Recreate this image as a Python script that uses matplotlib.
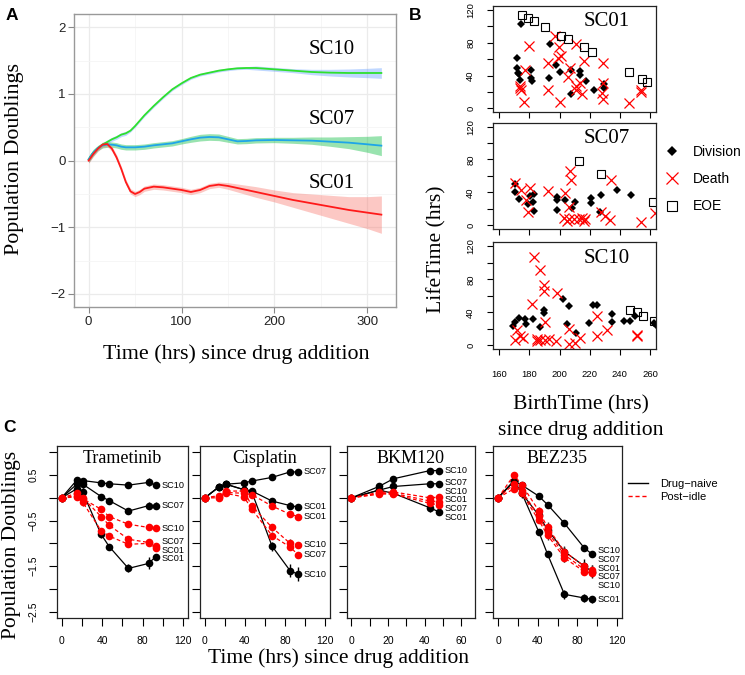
import numpy as np
import matplotlib.pyplot as plt
from matplotlib.lines import Line2D

SERIF = 'Liberation Serif'
SANS = 'Liberation Sans'
plt.rcParams['font.family'] = SANS
W, H = 745, 675

# ---------------- Panel A: smoothed population doublings ----------------
a_time = [0, 5, 10, 15, 20, 25, 30, 35, 40, 45, 50, 55, 60, 70, 80, 90, 100, 110,
          120, 130, 140, 150, 160, 170, 180, 200, 220, 240, 260, 280, 300, 315]
a_sc10 = [0.02, 0.12, 0.19, 0.24, 0.28, 0.32, 0.35, 0.39, 0.41, 0.45, 0.52, 0.60, 0.68,
          0.82, 0.95, 1.07, 1.16, 1.24, 1.29, 1.32, 1.35, 1.37, 1.385, 1.39, 1.39, 1.37,
          1.35, 1.33, 1.32, 1.315, 1.315, 1.315]
a_sc10_se = [0.05, 0.04, 0.03, 0.03, 0.03, 0.03, 0.03, 0.03, 0.03, 0.02, 0.02, 0.02, 0.02,
             0.02, 0.02, 0.02, 0.02, 0.02, 0.02, 0.02, 0.02, 0.02, 0.02, 0.02, 0.03, 0.03,
             0.03, 0.04, 0.05, 0.06, 0.07, 0.08]
a_sc07 = [0.02, 0.12, 0.19, 0.23, 0.24, 0.24, 0.23, 0.21, 0.20, 0.20, 0.20, 0.205, 0.21,
          0.23, 0.245, 0.26, 0.29, 0.32, 0.345, 0.355, 0.35, 0.32, 0.29, 0.295, 0.305, 0.31,
          0.305, 0.30, 0.285, 0.27, 0.245, 0.225]
a_sc07_se = [0.05, 0.05, 0.04, 0.04, 0.04, 0.04, 0.04, 0.04, 0.04, 0.04, 0.04, 0.04, 0.04,
             0.04, 0.04, 0.04, 0.04, 0.045, 0.05, 0.05, 0.05, 0.045, 0.04, 0.04, 0.04, 0.04,
             0.045, 0.055, 0.07, 0.09, 0.12, 0.15]
a_sc01 = [0.0, 0.10, 0.18, 0.24, 0.25, 0.18, 0.05, -0.12, -0.32, -0.46, -0.50, -0.47, -0.42,
          -0.39, -0.40, -0.42, -0.44, -0.47, -0.44, -0.38, -0.36, -0.38, -0.41, -0.44, -0.47,
          -0.53, -0.59, -0.64, -0.69, -0.74, -0.78, -0.81]
a_sc01_se = [0.04, 0.04, 0.04, 0.04, 0.04, 0.04, 0.04, 0.04, 0.04, 0.04, 0.04, 0.04, 0.04,
             0.04, 0.04, 0.04, 0.04, 0.04, 0.04, 0.04, 0.04, 0.05, 0.06, 0.07, 0.08, 0.09,
             0.11, 0.14, 0.17, 0.20, 0.24, 0.28]

# ---------------- Panel B: birth time vs lifetime ----------------
b_sc01_div_birth = [174.4, 172.0, 172.0, 172.2, 172.9, 173.8, 181.1, 181.1, 181.6, 193.8, 193.3,
                    197.6, 200.0, 207.6, 207.6, 213.3, 213.3, 217.6, 222.7, 229.3, 229.8]
b_sc01_div_life = [103.1, 61.8, 48.9, 42.9, 42.1, 34.1, 46.9, 36.9, 32.8, 78.2, 36.9,
                   52.9, 44.9, 46.9, 18.0, 45.7, 40.9, 32.8, 22.0, 29.6, 24.8]
b_sc01_death_birth = [180.0, 177.1, 173.8, 174.4, 173.8, 176.7, 192.0, 192.0, 197.1, 199.3,
                      200.9, 198.9, 200.0, 211.1, 216.0, 207.1, 205.3, 213.3, 211.1, 214.9,
                      211.1, 228.9, 228.9, 228.2, 228.9, 246.0, 253.8, 253.8]
b_sc01_death_life = [76.6, 46.9, 26.8, 22.0, 24.8, 8.0, 54.9, 22.0, 88.7, 75.0,
                     63.8, 60.9, 7.6, 78.2, 58.1, 48.9, 37.7, 30.8, 22.0, 18.0,
                     26.8, 54.9, 30.8, 18.8, 11.6, 6.0, 22.0, 19.6]
b_sc01_eoe_birth = [175.3, 179.3, 183.3, 190.4, 201.1, 205.3, 216.0, 221.6, 246.0, 254.9, 258.2]
b_sc01_eoe_life = [114.0, 110.5, 106.8, 99.1, 88.3, 84.6, 74.6, 68.2, 44.1, 35.3, 32.0]

b_sc07_div_birth = [170.4, 170.4, 173.3, 179.3, 180.4, 183.3, 182.2, 182.7, 198.2, 198.2,
                    198.2, 203.8, 208.2, 210.4, 220.9, 220.9, 227.8, 237.8, 247.6, 227.1]
b_sc07_div_life = [50.5, 40.4, 31.9, 25.1, 35.2, 38.4, 27.9, 17.0, 34.3, 30.3,
                   18.2, 30.3, 21.0, 28.7, 33.1, 27.1, 37.2, 43.2, 37.2, 15.8]
b_sc07_death_birth = [170.4, 174.2, 177.8, 180.4, 179.3, 192.0, 203.8, 206.7, 207.6, 206.2,
                      203.1, 206.0, 209.3, 214.9, 217.1, 204.9, 212.7, 216.0, 227.6, 230.4,
                      233.8, 233.3, 253.8, 263.3]
b_sc07_death_life = [51.3, 43.2, 31.1, 45.3, 15.8, 42.0, 39.2, 65.5, 55.4, 22.2,
                     8.9, 7.7, 6.9, 8.9, 6.9, 4.9, 6.9, 4.9, 15.8, 10.9,
                     54.6, 6.0, 3.6, 15.0]
b_sc07_eoe_birth = [212.7, 227.8, 261.8]
b_sc07_eoe_life = [77.6, 62.6, 28.7]

b_sc10_div_birth = [169.3, 170.4, 173.3, 177.1, 177.8, 182.2, 186.7, 189.8, 189.8, 202.2, 206.0,
                    204.7, 210.7, 219.3, 222.2, 224.9, 235.1, 235.1, 242.7, 246.7, 249.8,
                    262.7, 263.8]
b_sc10_div_life = [23.1, 27.9, 33.2, 32.0, 26.3, 32.0, 22.3, 43.2, 39.2, 56.2, 47.3,
                   26.3, 15.0, 27.1, 49.3, 49.3, 38.4, 27.9, 29.5, 29.5, 36.0,
                   27.1, 25.0]
b_sc10_death_birth = [183.1, 187.1, 189.8, 189.8, 198.2, 181.6, 190.4, 170.4, 173.8, 176.0,
                      171.6, 184.9, 186.7, 185.3, 190.0, 193.3, 197.3, 206.2, 206.2, 210.0,
                      213.6, 224.9, 224.9, 231.6, 251.1, 251.6]
b_sc10_death_life = [107.1, 90.9, 73.5, 65.5, 63.4, 50.5, 27.9, 6.9, 11.0, 9.0,
                     18.2, 7.7, 6.9, 4.8, 6.9, 7.7, 4.8, 19.8, 2.0, 2.8,
                     9.0, 36.0, 11.0, 18.2, 13.0, 11.0]
b_sc10_eoe_birth = [246.7, 251.6, 255.6, 262.7]
b_sc10_eoe_life = [43.2, 40.0, 35.2, 29.1]

# ---------------- Panel C: drug-naive vs post-idle ----------------
c_clones = ['SC10', 'SC07', 'SC01']

tram_time = [0, 15, 21, 39, 47, 66, 86, 93]
tram_naive = {'SC10': [0, 0.39, 0.38, 0.33, 0.31, 0.28, 0.34, 0.28],
              'SC07': [0, 0.30, 0.30, 0.03, -0.06, -0.29, -0.17, -0.17],
              'SC01': [0, 0.20, 0.12, -0.80, -1.07, -1.55, -1.44, -1.29]}
tram_naive_se = {'SC10': [0, .06, .05, .03, .03, .05, .09, .05],
                 'SC07': [0, .08, .08, .05, .04, .06, .08, .08],
                 'SC01': [0, .08, .10, .08, .04, .09, .13, .05]}
tram_idle = {'SC10': [0, 0.05, -0.02, -0.25, -0.41, -0.58, -0.65, -0.67],
             'SC07': [0, 0.10, 0.00, -0.41, -0.60, -0.91, -0.98, -1.05],
             'SC01': [0, 0.02, -0.10, -0.72, -0.84, -1.02, -1.00, -1.10]}
tram_idle_se = {'SC10': [0, .04, .04, .04, .04, .04, .04, .04],
                'SC07': [0, .05, .05, .04, .04, .08, .05, .05],
                'SC01': [0, .06, .08, .05, .04, .05, .06, .06]}

cis_time = [0, 14, 21, 39, 47, 67, 85, 93]
cis_naive = {'SC10': [0, 0.24, 0.30, 0.18, 0.12, -1.06, -1.60, -1.68],
             'SC07': [0, 0.24, 0.30, 0.33, 0.37, 0.45, 0.57, 0.57],
             'SC01': [0, 0.24, 0.30, 0.18, 0.15, -0.07, -0.17, -0.20]}
cis_naive_se = {'SC10': [0, .04, .05, .05, .07, .10, .14, .15],
                'SC07': [0, .04, .05, .04, .04, .05, .04, .07],
                'SC01': [0, .04, .05, .05, .06, .06, .08, .07]}
cis_idle = {'SC10': [0, 0.00, 0.15, 0.15, -0.18, -0.65, -1.00, -1.03],
            'SC07': [0, 0.03, 0.10, 0.02, -0.25, -0.83, -1.08, -1.25],
            'SC01': [0, 0.05, 0.12, 0.10, 0.07, -0.18, -0.36, -0.41]}
cis_idle_se = {'SC10': [0, .05, .07, .06, .07, .07, .10, .06],
               'SC07': [0, .06, .05, .05, .07, .08, .05, .05],
               'SC01': [0, .04, .06, .04, .05, .05, .05, .05]}

bkm_time = [0, 15, 23, 43, 48]
bkm_naive = {'SC10': [0, 0.25, 0.42, 0.60, 0.60],
             'SC07': [0, 0.17, 0.25, 0.31, 0.31],
             'SC01': [0, 0.17, 0.10, -0.22, -0.31]}
bkm_naive_se = {'SC10': [0, .04, .04, .04, .04],
                'SC07': [0, .04, .04, .04, .04],
                'SC01': [0, .04, .05, .10, .05]}
bkm_idle = {'SC10': [0, 0.12, 0.13, 0.00, 0.02],
            'SC07': [0, 0.10, 0.08, -0.12, -0.16],
            'SC01': [0, 0.08, 0.10, -0.07, -0.08]}
bkm_idle_se = {'SC10': [0, .04, .05, .05, .06],
               'SC07': [0, .04, .06, .08, .08],
               'SC01': [0, .04, .05, .06, .07]}

bez_time = [0, 16, 24, 41, 50, 67, 87, 95]
bez_naive = {'SC10': [0, 0.37, 0.28, 0.04, -0.15, -0.56, -1.10, -1.24],
             'SC07': [0, 0.37, 0.10, -0.38, -0.70, -1.18, -1.50, -1.62],
             'SC01': [0, 0.37, 0.10, -0.74, -1.24, -2.12, -2.20, -2.23]}
bez_naive_se = {'SC10': [0, .06, .05, .04, .04, .05, .05, .06],
                'SC07': [0, .06, .10, .06, .06, .10, .15, .15],
                'SC01': [0, .06, .05, .04, .04, .10, .08, .07]}
bez_idle = {'SC10': [0, 0.20, 0.10, -0.49, -0.82, -1.32, -1.62, -1.65],
            'SC07': [0, 0.50, 0.29, -0.28, -0.65, -1.18, -1.50, -1.58],
            'SC01': [0, 0.30, 0.15, -0.40, -0.75, -1.25, -1.57, -1.62]}
bez_idle_se = {'SC10': [0, .06, .05, .06, .10, .10, .08, .08],
               'SC07': [0, .06, .05, .08, .12, .12, .10, .10],
               'SC01': [0, .06, .05, .08, .10, .15, .10, .10]}


fig = plt.figure(figsize=(W / 100, H / 100), dpi=100)


def px_axes(left, top, right, bottom):
    return fig.add_axes([left / W, 1 - bottom / H, (right - left) / W, (bottom - top) / H])


# ===== Panel A =====
axA = px_axes(74, 14, 396, 307.3)
for vals, se, line_c, fill_c in [(a_sc10, a_sc10_se, '#2ee02e', '#619CFF'),
                                 (a_sc07, a_sc07_se, '#1ea5e8', '#00BA38'),
                                 (a_sc01, a_sc01_se, '#ff1a1a', '#F8766D')]:
    v = np.array(vals)
    s = np.array(se)
    axA.fill_between(a_time, v - s, v + s, color=fill_c, alpha=0.4, lw=0)
    axA.plot(a_time, v, color=line_c, lw=1.3)
axA.set_xlim(-15.75, 330.75)
axA.set_ylim(-2.2, 2.2)
axA.set_xticks([0, 100, 200, 300])
axA.set_xticks([50, 150, 250], minor=True)
axA.set_yticks([-2, -1, 0, 1, 2])
axA.set_yticks([-1.5, -0.5, 0.5, 1.5], minor=True)
axA.grid(which='major', color='#EBEBEB', lw=0.9)
axA.grid(which='minor', color='#F5F5F5', lw=0.6)
axA.set_axisbelow(True)
axA.tick_params(which='minor', length=0)
axA.tick_params(which='major', length=4, color='#888888', labelsize=9.5,
                labelcolor='#222222', pad=2)
for sp in axA.spines.values():
    sp.set_color('#999999')
    sp.set_linewidth(1.0)
for txt, y in [('SC10', 1.67), ('SC07', 0.62), ('SC01', -0.35)]:
    axA.text(262, y, txt, family=SERIF, fontsize=15, ha='center', va='center')
fig.text(236.7 / W, 1 - 354 / H, 'Time (hrs) since drug addition', family=SERIF,
         fontsize=15.8, ha='center', va='center')
fig.text(15 / W, 1 - 159 / H, 'Population Doublings', family=SERIF, fontsize=15.8,
         ha='center', va='center', rotation=90)

# ===== Panel B =====
b_sets = [('SC01', b_sc01_div_birth, b_sc01_div_life, b_sc01_death_birth, b_sc01_death_life,
           b_sc01_eoe_birth, b_sc01_eoe_life),
          ('SC07', b_sc07_div_birth, b_sc07_div_life, b_sc07_death_birth, b_sc07_death_life,
           b_sc07_eoe_birth, b_sc07_eoe_life),
          ('SC10', b_sc10_div_birth, b_sc10_div_life, b_sc10_death_birth, b_sc10_death_life,
           b_sc10_eoe_birth, b_sc10_eoe_life)]
b_boxes = [(6, 112.3), (122.7, 229), (242.3, 349.3)]
for i, (name, db, dl, xb, xl, eb, el) in enumerate(b_sets):
    top, bottom = b_boxes[i]
    ax = px_axes(493.3, top, 656, bottom)
    ax.plot(db, dl, 'D', color='black', ms=4.2, mew=0)
    ax.plot(xb, xl, 'x', color='red', ms=7, mew=0.9)
    ax.plot(eb, el, 's', mfc='none', mec='black', ms=6, mew=0.8)
    ax.set_xlim(156, 264)
    ax.set_ylim(-4.8, 124.8)
    ax.set_yticks([0, 20, 40, 60, 80, 100, 120])
    ax.set_yticklabels(['0', '', '40', '', '80', '', '120'], rotation=90, va='center')
    ax.set_xticks([160, 180, 200, 220, 240, 260])
    if i < 2:
        ax.set_xticklabels([])
    ax.tick_params(length=4, width=0.8, labelsize=6.8, pad=9)
    ax.tick_params(axis='x', pad=11)
    for sp in ax.spines.values():
        sp.set_linewidth(0.9)
        sp.set_color('#222222')
    ax.text(0.697, 0.852, name, transform=ax.transAxes, family=SERIF, fontsize=15,
            ha='center', va='center')

fig.text(437 / W, 1 - 249 / H, 'LifeTime (hrs)', family=SERIF, fontsize=15.6,
         ha='center', va='center', rotation=90)
fig.text(581 / W, 1 - 405 / H, 'BirthTime (hrs)', family=SERIF, fontsize=15.6,
         ha='center', va='center')
fig.text(581 / W, 1 - 431 / H, 'since drug addition', family=SERIF, fontsize=15.6,
         ha='center', va='center')
b_handles = [Line2D([], [], marker='D', color='black', ls='none', ms=5, mew=0),
             Line2D([], [], marker='x', color='red', ls='none', ms=8, mew=0.9),
             Line2D([], [], marker='s', mfc='none', mec='black', ls='none', ms=7, mew=0.8)]
fig.legend(b_handles, ['Division', 'Death', 'EOE'], loc='upper left',
           bbox_to_anchor=(665 / W, 1 - 145 / H), frameon=False, fontsize=10,
           handlelength=1.0, handletextpad=1.0, labelspacing=0.95, borderpad=0,
           borderaxespad=0)


# ===== Panel C =====
def spread(vals, gap):
    order = np.argsort(vals)[::-1]
    y = np.array(vals, float)[order]
    for _ in range(300):
        moved = False
        for k in range(1, len(y)):
            d = y[k - 1] - y[k]
            if d < gap - 1e-9:
                shift = (gap - d) / 2
                y[k - 1] += shift
                y[k] -= shift
                moved = True
        if not moved:
            break
    out = np.empty_like(y)
    out[order] = y
    return out


c_panels = [('Trametinib', tram_time, tram_naive, tram_naive_se, tram_idle, tram_idle_se),
            ('Cisplatin', cis_time, cis_naive, cis_naive_se, cis_idle, cis_idle_se),
            ('BKM120', bkm_time, bkm_naive, bkm_naive_se, bkm_idle, bkm_idle_se),
            ('BEZ235', bez_time, bez_naive, bez_naive_se, bez_idle, bez_idle_se)]
c_boxes = [(56.7, 188), (200, 330), (346.7, 475), (493.3, 621.7)]
for i, (drug, t, naive, naive_se, idle, idle_se) in enumerate(c_panels):
    left, right = c_boxes[i]
    ax = px_axes(left, 446, right, 618)
    for cl in c_clones:
        ax.errorbar(t, naive[cl], yerr=naive_se[cl], color='black', lw=0.9,
                    elinewidth=1.0, capsize=0, marker='o', ms=5.5, mew=0)
    for cl in c_clones:
        ax.errorbar(t, idle[cl], yerr=idle_se[cl], color='red', ls=(0, (3, 2)), lw=0.9,
                    elinewidth=1.0, ecolor='#333333', capsize=0, marker='o', ms=5.5, mew=0)
    last_vals = [naive[cl][-1] for cl in c_clones] + [idle[cl][-1] for cl in c_clones]
    names = c_clones + c_clones
    label_y = spread(last_vals, 0.19)
    for nm, yy in zip(names, label_y):
        ax.annotate(nm, xy=(t[-1], yy), xytext=(4, 0), textcoords='offset points',
                    ha='left', va='center', fontsize=6.6)
    if drug == 'BKM120':
        ax.set_xlim(-2.6, 67.6)
        ax.set_xticks([0, 10, 20, 30, 40, 50, 60])
        ax.set_xticklabels(['0', '', '20', '', '40', '', '60'])
    else:
        ax.set_xlim(-4.8, 124.8)
        ax.set_xticks([0, 20, 40, 60, 80, 100, 120])
        ax.set_xticklabels(['0', '', '40', '', '80', '', '120'])
    ax.set_ylim(-2.64, 1.14)
    ax.set_yticks([1.0, 0.5, 0, -0.5, -1.0, -1.5, -2.0, -2.5])
    if i == 0:
        ax.set_yticklabels(['', '0.5', '', '\u22120.5', '', '\u22121.5', '', '\u22122.5'],
                           rotation=90, va='center')
    else:
        ax.set_yticklabels([])
    ax.tick_params(length=5.5, width=0.8, labelsize=7.5, pad=7.5)
    for sp in ax.spines.values():
        sp.set_linewidth(0.9)
        sp.set_color('#222222')
    ax.text(0.5, 0.928, drug, transform=ax.transAxes, family=SERIF, fontsize=13,
            ha='center', va='center')

fig.text(339 / W, 1 - 658 / H, 'Time (hrs) since drug addition', family=SERIF,
         fontsize=15.5, ha='center', va='center')
fig.text(12 / W, 1 - 545 / H, 'Population Doublings', family=SERIF, fontsize=15.5,
         ha='center', va='center', rotation=90)
c_handles = [Line2D([], [], color='black', lw=1.0),
             Line2D([], [], color='red', lw=1.0, ls=(0, (3, 2)))]
fig.legend(c_handles, ['Drug\u2212naive', 'Post\u2212idle'], loc='upper left',
           bbox_to_anchor=(627.7 / W, 1 - 479 / H), frameon=False, fontsize=8,
           handlelength=1.85, handletextpad=1.05, labelspacing=0.29, borderpad=0,
           borderaxespad=0)

# panel letters
for letter, x, y in [('A', 12, 15), ('B', 415, 16), ('C', 10, 428)]:
    fig.text(x / W, 1 - y / H, letter, fontsize=12.5, fontweight='bold',
             ha='center', va='center')

fig.savefig('out.png', dpi=100)
